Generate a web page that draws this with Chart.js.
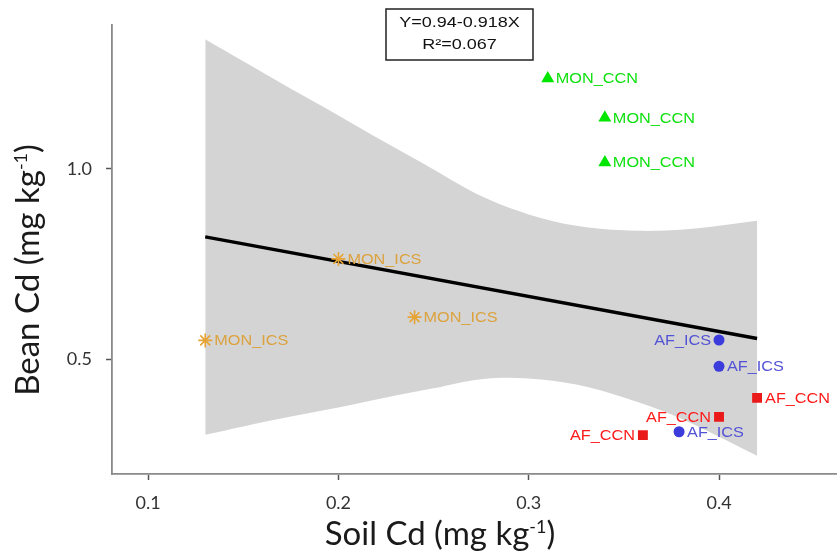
<!DOCTYPE html>
<html><head><meta charset="utf-8">
<script src="https://cdn.jsdelivr.net/npm/chart.js@4"></script>
<style>html,body{margin:0;padding:0;background:#fff}#wrap{width:837px;height:555px}</style>
</head><body><div id="wrap"><canvas id="c" width="837" height="555"></canvas></div>
<script>
// ---- data ----
const monCcnX = [0.31, 0.34, 0.34];
const monCcnY = [1.237, 1.134, 1.016];
const monIcsX = [0.13, 0.20, 0.24];
const monIcsY = [0.549, 0.763, 0.610];
const afIcsX  = [0.40, 0.40, 0.379];
const afIcsY  = [0.550, 0.481, 0.309];
const afCcnX  = [0.42, 0.40, 0.36];
const afCcnY  = [0.398, 0.348, 0.300];
const fitX = [0.13, 0.42];
const fitY = [0.821, 0.554];
const bandX     = [0.13, 0.15, 0.175, 0.20, 0.225, 0.25, 0.275, 0.30, 0.325, 0.35, 0.375, 0.40, 0.42];
const bandUpper = [1.340, 1.282, 1.210, 1.140, 1.068, 0.998, 0.928, 0.880, 0.850, 0.838, 0.838, 0.850, 0.863];
const bandLower = [0.301, 0.323, 0.349, 0.373, 0.399, 0.423, 0.447, 0.449, 0.433, 0.399, 0.354, 0.296, 0.246];
const xTicks = [0.1, 0.2, 0.3, 0.4];
const yTicks = [0.5, 1.0];
const equationLines = ['Y=0.94-0.918X', 'R\u00B2=0.067'];
const xTitle = ['Soil Cd (mg kg', '-1', ')'];
const yTitle = ['Bean Cd (mg kg', '-1', ')'];
// label side per point (which side of the marker the name sits)
const monCcnSide = ['r','r','r'];
const monIcsSide = ['r','r','r'];
const afIcsSide  = ['l','r','r'];
const afCcnSide  = ['r','l','l'];

const pts = (xs, ys) => xs.map((x, i) => ({x, y: ys[i]}));

const LABEL_FONT = '14px "Liberation Sans", Arial, sans-serif';
const STRETCH = 1.16;

const labelPlugin = {
  id: 'ptLabels',
  afterDatasetsDraw(chart) {
    const ctx = chart.ctx;
    chart.data.datasets.forEach((ds, di) => {
      if (!ds.ptLabel) return;
      const meta = chart.getDatasetMeta(di);
      meta.data.forEach((el, i) => {
        const side = ds.ptSide[i];
        const off = ds.labelOffset;
        ctx.save();
        ctx.font = LABEL_FONT;
        ctx.fillStyle = ds.labelColor;
        ctx.textBaseline = 'middle';
        ctx.textAlign = side === 'l' ? 'right' : 'left';
        ctx.translate(el.x + (side === 'l' ? -off : off), el.y + 1);
        ctx.scale(STRETCH, 1);
        ctx.fillText(ds.ptLabel, 0, 0);
        ctx.restore();
      });
    });
  }
};

function drawSup(ctx, parts, cx, cy) {
  const big = '33px Lato, "Open Sans", sans-serif';
  const small = '18px Lato, "Open Sans", sans-serif';
  ctx.font = big; const w0 = ctx.measureText(parts[0]).width; const w2 = ctx.measureText(parts[2]).width;
  ctx.font = small; const w1 = ctx.measureText(parts[1]).width;
  const total = w0 + w1 + w2;
  let x = cx - total / 2;
  ctx.textAlign = 'left'; ctx.textBaseline = 'alphabetic';
  ctx.font = big; ctx.fillText(parts[0], x, cy); x += w0;
  ctx.font = small; ctx.fillText(parts[1], x, cy - 12); x += w1;
  ctx.font = big; ctx.fillText(parts[2], x, cy);
}

const decorPlugin = {
  id: 'decor',
  afterDraw(chart) {
    const ctx = chart.ctx;
    ctx.save();
    ctx.fillStyle = '#1a1a1a';
    drawSup(ctx, xTitle, 440, 545);
    ctx.translate(39, 270);
    ctx.rotate(-Math.PI / 2);
    drawSup(ctx, yTitle, 0, 0);
    ctx.restore();
    // equation box
    ctx.save();
    const bx = 386, by = 9, bw = 147, bh = 51;
    ctx.fillStyle = '#fff';
    ctx.fillRect(bx, by, bw, bh);
    ctx.strokeStyle = '#222'; ctx.lineWidth = 1.5;
    ctx.strokeRect(bx, by, bw, bh);
    ctx.fillStyle = '#111';
    ctx.font = '15px "Liberation Sans", Arial, sans-serif';
    ctx.textAlign = 'center'; ctx.textBaseline = 'middle';
    [0, 1].forEach(k => {
      ctx.save();
      ctx.translate(bx + bw / 2, by + 14 + k * 22);
      ctx.scale(1.2, 1);
      ctx.fillText(equationLines[k], 0, 0);
      ctx.restore();
    });
    ctx.restore();
  }
};

new Chart(document.getElementById('c'), {
  type: 'scatter',
  data: {
    datasets: [
      { label: 'MON_CCN', data: pts(monCcnX, monCcnY), pointStyle: 'triangle', pointRadius: 7.5,
        backgroundColor: '#00e600', borderColor: '#00e600', borderWidth: 0, order: 0,
        ptLabel: 'MON_CCN', ptSide: monCcnSide, labelColor: '#10e010', labelOffset: 8 },
      { label: 'MON_ICS', data: pts(monIcsX, monIcsY), pointStyle: 'star', pointRadius: 7,
        backgroundColor: '#e6a436', borderColor: '#e6a436', borderWidth: 1.6, order: 0,
        ptLabel: 'MON_ICS', ptSide: monIcsSide, labelColor: '#dca23e', labelOffset: 9 },
      { label: 'AF_ICS', data: pts(afIcsX, afIcsY), pointStyle: 'circle', pointRadius: 5.5,
        backgroundColor: '#3c3cdc', borderColor: '#3c3cdc', borderWidth: 0, order: 0,
        ptLabel: 'AF_ICS', ptSide: afIcsSide, labelColor: '#5252d6', labelOffset: 8 },
      { label: 'AF_CCN', data: pts(afCcnX, afCcnY), pointStyle: 'rect', pointRadius: 7,
        backgroundColor: '#ea1a1a', borderColor: '#ea1a1a', borderWidth: 0, order: 0,
        ptLabel: 'AF_CCN', ptSide: afCcnSide, labelColor: '#ff1a1a', labelOffset: 8 },
      { type: 'line', label: 'fit', data: pts(fitX, fitY), borderColor: '#000', borderWidth: 3.4,
        pointRadius: 0, fill: false, order: 1 },
      { type: 'line', label: 'upper', data: pts(bandX, bandUpper), borderWidth: 0, borderColor: 'rgba(0,0,0,0)',
        pointRadius: 0, fill: false, tension: 0.35, order: 3 },
      { type: 'line', label: 'lower', data: pts(bandX, bandLower), borderWidth: 0, borderColor: 'rgba(0,0,0,0)',
        pointRadius: 0, fill: '-1', backgroundColor: '#d4d4d4', tension: 0.35, order: 2 }
    ]
  },
  options: {
    responsive: false, animation: false, devicePixelRatio: 1,
    layout: { autoPadding: false, padding: { top: 22, right: 0, left: 0, bottom: 0 } },
    plugins: { legend: { display: false }, tooltip: { enabled: false }, title: { display: false } },
    scales: {
      x: {
        type: 'linear', min: 0.081, max: 0.462,
        afterBuildTicks: s => { s.ticks = xTicks.map(v => ({value: v})); },
        afterFit: s => { s.height = 81; },
        grid: { drawOnChartArea: false, drawTicks: true, tickLength: 6, tickColor: '#555', tickWidth: 1.5 },
        border: { display: true, color: '#8a8a8a', width: 1.8 },
        ticks: { font: { family: 'Lato', size: 18 }, color: '#333', padding: 12, callback: v => v.toFixed(1) }
      },
      y: {
        type: 'linear', min: 0.198, max: 1.378,
        afterBuildTicks: s => { s.ticks = yTicks.map(v => ({value: v})); },
        afterFit: s => { s.width = 112; },
        grid: { drawOnChartArea: false, drawTicks: true, tickLength: 6, tickColor: '#555', tickWidth: 1.5 },
        border: { display: true, color: '#8a8a8a', width: 1.8 },
        ticks: { font: { family: 'Lato', size: 18 }, color: '#333', padding: 14, callback: v => v.toFixed(1) }
      }
    }
  },
  plugins: [labelPlugin, decorPlugin]
});
</script></body></html>
